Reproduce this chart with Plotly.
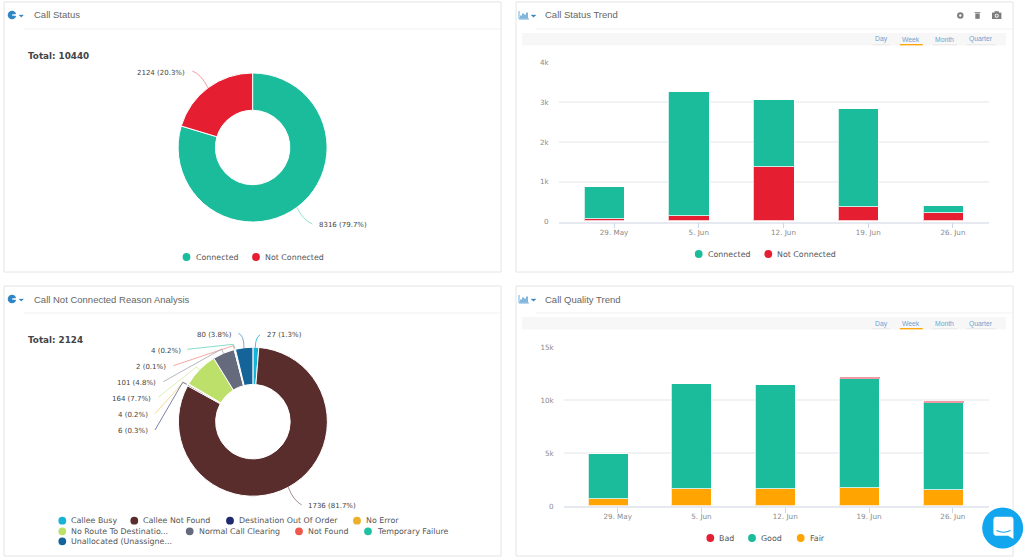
import pandas as pd
import plotly.graph_objects as go

W, H = 1024, 559

# ---------- data ----------
status_labels = ["Connected", "Not Connected"]
status_values = [8316, 2124]

reason_labels = ["Callee Busy", "Callee Not Found", "Destination Out Of Order", "No Error",
                 "No Route To Destinatio...", "Normal Call Clearing", "Not Found",
                 "Temporary Failure", "Unallocated (Unassigne..."]
reason_values = [27, 1736, 6, 4, 164, 101, 2, 4, 80]

weeks = ["2017-05-29", "2017-06-05", "2017-06-12", "2017-06-19", "2017-06-26"]
trend_connected = [820, 3120, 1690, 2452, 176]
trend_not_connected = [50, 125, 1355, 368, 200]
quality_bad = [0, 0, 0, 190, 160]
quality_good = [4250, 9990, 9860, 10330, 8310]
quality_fair = [630, 1540, 1540, 1640, 1450]

# ---------- colours ----------
TEAL, RED, ORANGE = "#1abc9c", "#e61e32", "#ffa400"
status_colors = [TEAL, RED]
reason_colors = ["#17b3d6", "#5a2d2d", "#1f2a6e", "#edb02a", "#bde06b",
                 "#666a7d", "#f0584e", "#1fc2a0", "#14649a"]
TXT, TITLE, TICK, LINK = "#444444", "#666666", "#8a8a8a", "#6aa5d2"
BODY_FONT, TITLE_FONT = "DejaVu Sans", "Liberation Sans"


def px(x):
    return x / W


def py(y):
    return 1 - y / H


shapes, annos = [], []


def text(x, y, s, size=9, color=TXT, anchor="left", font=BODY_FONT, bold=False):
    annos.append(dict(x=px(x), y=py(y), xref="paper", yref="paper", text=f"<b>{s}</b>" if bold else s,
                      showarrow=False, xanchor=anchor, yanchor="middle", align=anchor,
                      xshift=0, borderpad=0, borderwidth=0,
                      font=dict(size=size, color=color, family=font)))


def rect(x0, y0, x1, y1, fill=None, line=None, lw=1, layer="below"):
    shapes.append(dict(type="rect", xref="paper", yref="paper", x0=px(x0), x1=px(x1), y0=py(y0), y1=py(y1),
                       fillcolor=fill or "rgba(0,0,0,0)", line=dict(color=line or "rgba(0,0,0,0)", width=lw if line else 0),
                       layer=layer))


def circle(cx, cy, r, fill, layer="below"):
    shapes.append(dict(type="circle", xref="paper", yref="paper", x0=px(cx - r), x1=px(cx + r),
                       y0=py(cy - r), y1=py(cy + r), fillcolor=fill, line=dict(width=0), layer=layer))


def pathpx(points, color, width=1, fill=None, layer="above"):
    d = ""
    for cmd, *pts in points:
        d += cmd
        d += " ".join(f"{px(pts[i]):.5f},{py(pts[i + 1]):.5f}" for i in range(0, len(pts), 2)) + " "
    shapes.append(dict(type="path", xref="paper", yref="paper", path=d.strip(),
                       line=dict(color=color, width=width), fillcolor=fill or "rgba(0,0,0,0)", layer=layer))


def leader(x0, y0, cx, cy, x1, y1, color):
    pathpx([("M", x0, y0), ("Q", cx, cy, x1, y1)], color, 0.8)


def poly_leader(x0, y0, x1, y1, x2, y2, color):
    pathpx([("M", x0, y0), ("L", x1, y1), ("L", x2, y2)], color, 0.8)


# ---------- panels ----------
for x0, x1, y0, y1 in [(4, 501, 2, 272), (516, 1013, 2, 272), (4, 501, 286, 556), (516, 1013, 286, 556)]:
    rect(x0, y0, x1, y1, fill="white", line="#e4e4e4", lw=1)
    shapes.append(dict(type="line", xref="paper", yref="paper", x0=px(x0 + 20), x1=px(x1), y0=py(y0 + 27), y1=py(y0 + 27),
                       line=dict(color="#f1f1f1", width=1), layer="below"))

text(33.5, 15, "Call Status", 9.5, TITLE, font=TITLE_FONT)
text(545, 15, "Call Status Trend", 9.5, TITLE, font=TITLE_FONT)
text(33.5, 299, "Call Not Connected Reason Analysis", 9.5, TITLE, font=TITLE_FONT)
text(545, 299, "Call Quality Trend", 9.5, TITLE, font=TITLE_FONT)

# header icons
for cy in (15, 299):
    circle(12, cy, 4.3, "#2f86c5")
    pathpx([("M", 12, cy), ("L", 17, cy - 1), ("L", 17, cy + 1), ("Z",)], "white", 0.6, "white")
    pathpx([("M", 19, cy), ("L", 23.5, cy), ("L", 21.2, cy + 2.2), ("Z",)], "#2f86c5", 0.3, "#2f86c5")
    pathpx([("M", 531, cy), ("L", 536, cy), ("L", 533.5, cy + 2.2), ("Z",)], "#2f86c5", 0.3, "#2f86c5")
    pathpx([("M", 519, cy - 4), ("L", 519, cy + 4), ("L", 529, cy + 4)], "#4f9bd3", 0.8)
    for bx, bh in ((521, 3), (523, 5), (525, 4), (527, 6)):
        pathpx([("M", bx, cy + 3.5), ("L", bx, cy + 3.5 - bh)], "#2f86c5", 1.2)

# toolbar icons of the top right panel
circle(960.3, 15.5, 3.2, "#7d7d7d", "above")
circle(960.3, 15.5, 1.2, "white", "above")
rect(975.3, 13.5, 979.7, 18.8, fill="#7d7d7d", layer="above")
rect(974.6, 12.2, 980.4, 13.1, fill="#7d7d7d", layer="above")
rect(992, 12.6, 1001.4, 19, fill="#7d7d7d", layer="above")
rect(994.5, 11.2, 998.8, 13, fill="#7d7d7d", layer="above")
circle(996.7, 15.7, 2, "white", "above")
circle(996.7, 15.7, 1.1, "#7d7d7d", "above")

# range selectors
for top in (33, 317):
    rect(522, top, 1006, top + 12.5, fill="#f7f7f7")
    for label, cx, half in (("Day", 881, 8.5), ("Week", 911.3, 11.5), ("Month", 944.7, 12.5), ("Quarter", 981, 14.5)):
        text(cx, top + 6.5, label, 6.8, LINK, "center", TITLE_FONT)
        is_week = label == "Week"
        shapes.append(dict(type="line", xref="paper", yref="paper", x0=px(cx - half), x1=px(cx + half),
                           y0=py(top + 11.7), y1=py(top + 11.7),
                           line=dict(color=ORANGE if is_week else "#e8e8e8", width=1.3 if is_week else 1), layer="below"))

# ---------- donut captions ----------
text(28, 55.5, "Total: " + str(sum(status_values)), 8.8, TXT, bold=True)
text(28, 340, "Total: " + str(sum(reason_values)), 8.8, TXT, bold=True)


def cap(vals, i):
    return f"{vals[i]} ({vals[i] / sum(vals) * 100:.1f}%)"


CAP = 7
text(185, 73, cap(status_values, 1), CAP, anchor="right")
leader(192.3, 71, 201, 74, 208.3, 88.3, "#f2808c")
text(319.3, 225, cap(status_values, 0), CAP)
leader(312.3, 224, 303, 220, 296.7, 207.3, "#72d8c4")

text(267, 335.3, cap(reason_values, 0), CAP)
leader(260, 335, 255.5, 337, 255.3, 347.7, reason_colors[0])
text(231.7, 335.3, cap(reason_values, 8), CAP, anchor="right")
leader(238.3, 333.3, 244, 335, 244, 347.7, "#5b97bf")
text(181, 351.3, cap(reason_values, 7), CAP, anchor="right")
poly_leader(187.3, 349.3, 233.3, 344.3, 235, 348.3, "#65d6bf")
text(166, 366.7, cap(reason_values, 6), CAP, anchor="right")
poly_leader(173.3, 365.7, 233.3, 345.7, 234.3, 349, "#f58f88")
text(156, 383.3, cap(reason_values, 5), CAP, anchor="right")
poly_leader(163.3, 381.7, 221.7, 349, 223.3, 353.3, "#a3a6b1")
text(151, 399.3, cap(reason_values, 4), CAP, anchor="right")
poly_leader(158.3, 397.3, 196.7, 366.7, 199.3, 370, "#d4eba5")
text(148.3, 414.7, cap(reason_values, 3), CAP, anchor="right")
poly_leader(155, 413.7, 183.3, 382.3, 186.7, 384, "#f3cd78")
text(148.3, 431, cap(reason_values, 2), CAP, anchor="right")
poly_leader(155, 430, 182.7, 382.3, 186.7, 384.3, "#5a638f")
text(308.3, 506.3, cap(reason_values, 1), CAP)
leader(301.7, 505, 293, 500, 288.3, 487.3, "#8f7070")


# ---------- hand placed legends (round swatches) ----------
def legend_entry(cx, cy, tx, label, color):
    circle(cx, cy, 3.9, color)
    text(tx, cy, label, 7.9, "#555555")


legend_entry(186.5, 257, 195.7, status_labels[0], TEAL)
legend_entry(256, 257, 265, status_labels[1], RED)
legend_entry(698.7, 254, 707.5, status_labels[0], TEAL)
legend_entry(768.3, 254, 777.3, status_labels[1], RED)
legend_entry(710.3, 538, 718.7, "Bad", RED)
legend_entry(752, 538, 761, "Good", TEAL)
legend_entry(800.7, 538, 809.7, "Fair", ORANGE)
reason_layout = [(62.3, 520.7, 71), (134.3, 520.7, 143.3), (230, 520.7, 238.7), (357, 520.7, 365.7),
                 (62.3, 531.3, 71), (189.7, 531.3, 198.7), (299, 531.3, 307.7), (368, 531.3, 377),
                 (62.3, 541.3, 71)]
for (cx, cy, tx), lab, col in zip(reason_layout, reason_labels, reason_colors):
    legend_entry(cx, cy, tx, lab, col)

# chat bubble
circle(1002.7, 528, 20.5, "#11a6ee", "above")
pathpx([("M", 996, 517), ("L", 1011, 517), ("Q", 1013.2, 517, 1013.2, 519.5), ("L", 1013.2, 538.5),
        ("L", 1008, 535.5), ("L", 996, 535.5), ("Q", 993.7, 535.5, 993.7, 533), ("L", 993.7, 519.5),
        ("Q", 993.7, 517, 996, 517), ("Z",)], "white", 0.5, "white")
pathpx([("M", 996.5, 530.5), ("Q", 1003.5, 534, 1010.5, 530.5)], "#11a6ee", 1.2)

# ---------- figure ----------
fig = go.Figure()


def dom_pie(cx, cy, r):
    return dict(x=[px(cx - r), px(cx + r)], y=[py(cy + r), py(cy - r)])


for labels, values, colors, dom in [
    (status_labels, status_values, status_colors, dom_pie(252.6, 147.5, 74.5)),
    (reason_labels, reason_values, reason_colors, dom_pie(252.9, 421.7, 74.5)),
]:
    fig.add_trace(go.Pie(labels=labels, values=values, hole=0.5, sort=False, direction="clockwise", rotation=0,
                         textinfo="none", domain=dom, showlegend=False, automargin=False,
                         marker=dict(colors=colors, line=dict(color="white", width=1))))

DAY_MS = 86400000


def bar(x, y, color, name, ax, wdays, lw=1):
    fig.add_trace(go.Bar(x=x, y=y, name=name, marker=dict(color=color, line=dict(color="rgba(255,255,255,0.75)", width=lw)),
                         xaxis=f"x{ax}", yaxis=f"y{ax}", showlegend=False,
                         width=wdays * DAY_MS, offset=(-wdays / 2 - 0.78) * DAY_MS))


bar(weeks, trend_not_connected, RED, "Not Connected", 1, 3.36)
bar(weeks, trend_connected, TEAL, "Connected", 1, 3.36)
bar(weeks, quality_fair, ORANGE, "Fair", 2, 3.34)
bar(weeks, quality_good, TEAL, "Good", 2, 3.34)
bar(weeks, quality_bad, "#f09aa4", "Bad", 2, 3.34, lw=0)


def xrange(left, right):
    d0 = pd.Timestamp(weeks[0])
    return [str(d0 + pd.Timedelta(days=left)), str(d0 + pd.Timedelta(days=right))]


xcommon = dict(type="date", tickvals=weeks, tickformat="%-d. %b", ticks="outside", ticklen=5, tickwidth=1,
               tickcolor="#ccd6eb", showgrid=False, showline=True, linecolor="#e6e9f0", linewidth=1.5, zeroline=False,
               tickfont=dict(size=7.2, color=TICK, family=BODY_FONT), fixedrange=True, automargin=False,
               ticklabelstandoff=-2)
ycommon = dict(showgrid=True, gridcolor="#f1f2f4", gridwidth=1.5, zeroline=False, showline=False, tickformat="~s",
               tickfont=dict(size=7.2, color=TICK, family=BODY_FONT), fixedrange=True, ticks="", ticklabelstandoff=9,
               automargin=False)

fig.update_layout(
    width=W, height=H, margin=dict(l=0, r=0, t=0, b=0), paper_bgcolor="white", plot_bgcolor="rgba(0,0,0,0)",
    barmode="stack", bargap=0, showlegend=False, shapes=shapes, annotations=annos,
    xaxis=dict(domain=[px(558.7), px(989.3)], range=xrange(-4.57, 31.0), anchor="y", **xcommon),
    yaxis=dict(domain=[py(221.7), py(62.3)], range=[0, 4000], tickvals=[0, 1000, 2000, 3000, 4000], anchor="x", **ycommon),
    xaxis2=dict(domain=[px(563.7), px(988.7)], range=xrange(-4.51, 31.0), anchor="y2", **xcommon),
    yaxis2=dict(domain=[py(506), py(347.3)], range=[0, 15000], tickvals=[0, 5000, 10000, 15000], anchor="x2", **ycommon),
)

fig.write_html("out.html", config=dict(displayModeBar=False),
               post_script="document.body.style.margin='0';document.body.style.overflow='hidden';")
